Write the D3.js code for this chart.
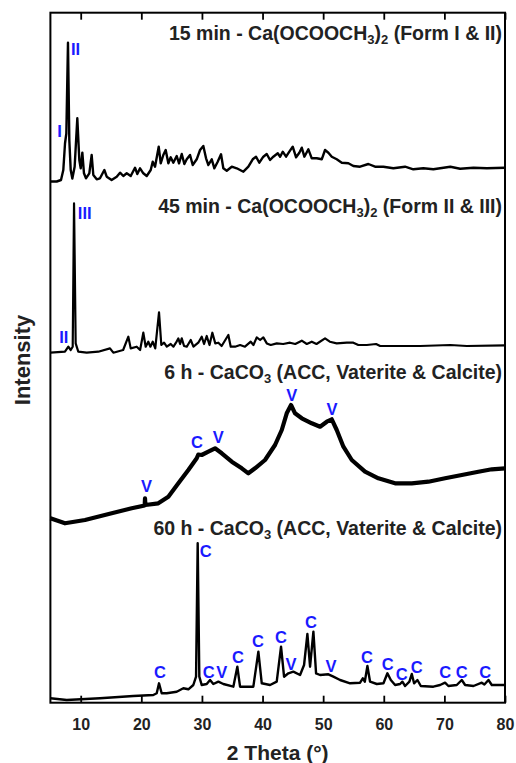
<!DOCTYPE html>
<html>
<head>
<meta charset="utf-8">
<script src="https://cdn.jsdelivr.net/npm/d3@7"></script>
<style>
  html, body { margin: 0; padding: 0; background: #fff; }
  svg { display: block; font-family: "Liberation Sans", Arial, sans-serif; }
</style>
</head>
<body>
<svg id="chart" width="516" height="763"></svg>
<script>
// ---------------- DATA ----------------
const xTicks = [10, 20, 30, 40, 50, 60, 70, 80];

// 15 min pattern: [2theta, intensity]
const scan15min = [
  [5.0,0],[6.04,0],[6.75,1.5],[7.13,11.5],[7.41,38],[7.63,48],[7.9,138.8],[8.12,41.5],[8.35,11.5],[8.62,3],
  [9.0,14.8],[9.44,63.2],[9.77,21.5],[10.0,13.2],[10.27,28.8],[10.54,8.2],[10.87,3.2],[11.42,8.2],[11.81,26.5],
  [12.08,6.5],[12.64,2.2],[13.18,3.2],[13.9,11.5],[14.29,4.8],[15.1,1.5],[15.94,4.8],[16.49,8.8],[17.03,5.5],
  [17.59,8.2],[18.25,5.5],[18.96,13.8],[19.34,7.5],[19.79,13.2],[20.33,8.2],[20.89,5.5],[21.55,11.5],[21.88,19.8],
  [22.26,14.8],[22.87,34.8],[23.2,18.2],[23.63,26.5],[24.02,31.5],[24.46,18.2],[24.85,24.2],[25.28,18.8],
  [25.84,25.5],[26.22,18.2],[26.67,27.5],[27.1,17.5],[27.49,22.2],[28.04,26.5],[28.48,16.5],[29.14,22.2],
  [29.69,31.5],[30.23,35.5],[30.68,23.2],[31.06,16.5],[31.62,22.2],[32.05,13.2],[32.6,19.8],[33.15,27.2],
  [33.53,13.2],[34.09,10.8],[34.92,14.8],[35.74,13.2],[36.84,9.8],[37.66,14.8],[38.38,22.2],[38.93,24.8],
  [39.47,18.8],[40.13,24.8],[40.69,27.5],[41.24,21.5],[41.78,24.8],[42.51,28.2],[42.9,24.8],[43.33,29.8],
  [43.88,24.8],[44.42,29.8],[44.98,34.8],[45.53,24.2],[46.07,28.8],[46.47,33.8],[46.9,24.8],[47.56,32.2],
  [48.12,23.2],[48.94,23.2],[49.77,22.2],[50.31,31.5],[50.86,28.8],[51.42,24.8],[52.24,22.2],[53.07,18.8],
  [54.16,18.2],[54.98,15.5],[56.09,14.8],[57.46,17.5],[58.56,14.8],[59.93,14.8],[61.58,13.2],[63.51,14.8],
  [64.88,12.2],[66.53,13.2],[68.18,12.2],[70.98,14.8],[72.6,12.8],[74.8,13.8],[77.0,13.2],[80.0,13.8]
];

// 45 min pattern
const scan45min = [
  [5.0,0],[7.4,1],[7.96,6],[8.35,2.7],[8.68,6],[8.9,149.3],[9.17,9.3],[9.6,1],[10.99,0],[12.9,1],[14.83,4.3],
  [15.38,0],[17.0,2.7],[17.86,16],[18.25,4.3],[19.24,6],[19.8,2.7],[20.33,20],[20.72,6],[21.15,11],[21.5,6],
  [21.88,11],[22.3,4.3],[22.92,40.3],[23.3,7.7],[23.75,10],[24.2,6],[24.85,8.7],[25.3,6],[25.72,10],[26.1,14.3],
  [26.4,8.7],[26.67,14.3],[27.05,6.7],[27.5,6],[28.15,12.7],[28.6,6],[29.4,10],[29.96,16],[30.35,8.7],
  [30.79,16.7],[31.25,7.7],[31.72,20],[32.2,9.3],[32.71,10],[33.25,6.7],[34.36,17.7],[34.75,6],[35.46,6],
  [36.3,7.7],[37.1,6],[38.05,11],[38.5,7.7],[39.04,15.3],[39.6,12.7],[40.13,15.3],[40.7,9.3],[41.35,7.7],
  [42.34,9.3],[43.4,8.7],[44.54,10],[45.4,8.7],[46.47,12],[47.3,8.7],[48.12,11],[48.9,8.7],[50.31,14.3],
  [51.1,11],[52.24,9.3],[53.9,10],[54.98,10],[55.8,7.7],[57.2,7.7],[58.73,8.7],[59.4,6.7],[62.69,6.7],
  [66.0,6.7],[70.98,7.7],[73.7,6.7],[80.0,7.3]
];

// 6 h pattern
const scan6h = [
  [5.0,6.7],[7.41,1.7],[10.71,5],[15.11,11.7],[18.41,16.7],[20.55,19.5],[20.61,26.7],[20.67,20],[22.8,21.7],
  [24.46,28.3],[26.11,41.7],[27.76,55],[29.14,66.7],[29.4,70.5],[29.96,70],[31.06,73.3],[32.16,76.7],
  [33.27,71.7],[34.92,63.3],[36.57,56.7],[37.66,51.7],[38.76,56.7],[40.41,65],[42.06,80],[43.17,95],
  [43.99,111.7],[44.7,120],[45.36,111.7],[46.47,106.7],[48.12,101.7],[49.49,98.3],[50.6,103.3],[51.42,105.7],
  [52.24,95],[53.34,78.3],[54.72,65],[56.91,53.3],[59.11,46.7],[61.86,41.7],[64.62,41.7],[67.36,43.3],
  [70.11,46.7],[72.87,50],[75.61,53.3],[77.82,55.7],[80.0,56.7]
];

// 60 h pattern
const scan60h = [
  [5.0,1.7],[7.69,0],[13.18,1.7],[18.68,4],[21.98,5],[22.54,6.7],[22.92,16.7],[23.36,6.7],[24.19,6.7],
  [25.84,8.3],[26.93,11.7],[27.76,10.7],[28.58,15],[29.03,23.3],[29.3,156.7],[29.57,23.3],[29.96,15],
  [30.79,16],[31.34,20],[31.88,16],[32.71,18.3],[33.53,16],[35.18,13.3],[35.84,33.3],[36.29,13.3],
  [38.48,13.3],[39.31,48.3],[39.87,16.7],[41.24,15],[42.34,18.3],[43.05,53.3],[43.55,23.3],[44.26,26.7],
  [45.08,28.3],[46.19,25],[46.85,35],[47.4,66],[47.84,33.3],[48.39,68.3],[48.83,26.7],[49.49,25],
  [50.86,25.7],[51.69,23.3],[52.79,20],[54.44,16.7],[56.09,17.3],[56.54,21.7],[56.87,18.3],[57.3,34],
  [57.74,18.3],[58.85,16],[59.95,16.7],[60.6,26.7],[61.16,20],[61.87,15],[62.69,16],[63.07,18.3],
  [63.52,14],[64.23,18.3],[64.62,26],[65.0,16.7],[65.55,20],[66.11,14],[68.18,13.3],[69.29,15],[70.11,17.3],
  [70.66,14],[72.04,15],[72.87,20],[73.42,15],[74.8,14],[76.17,17.3],[76.6,15.5],[77.27,20],[77.82,15],[80.0,15]
];

const scanOffsets = [521.2, 350, 177.7, 2.7];

// Pattern titles: [prefix, sub1, middle, sub2, suffix]
const titles = [
  ["15 min - Ca(OCOOCH", "3", ")", "2", " (Form I & II)"],
  ["45 min - Ca(OCOOCH", "3", ")", "2", " (Form II & III)"],
  ["6 h - CaCO", "3", " (ACC, Vaterite & Calcite)", "", ""],
  ["60 h - CaCO", "3", " (ACC, Vaterite & Calcite)", "", ""]
];
const titleLevels = [662.5, 489.5, 323.5, 167.5];

// Phase annotations: [label, 2theta, level]
const marks = [
  ["I", 6.5, 565.7], ["II", 9.14, 647.7],
  ["III", 10.66, 483.7], ["II", 7.21, 359.7],
  ["V", 20.86, 211.2], ["C", 29.19, 254.7], ["V", 32.71, 259.7], ["V", 44.82, 302.2], ["V", 51.47, 287.7],
  ["C", 30.64, 146], ["C", 23.09, 24.4], ["C", 31.12, 24.4], ["V", 33.27, 24.4], ["C", 35.96, 39.4],
  ["C", 39.26, 55.4], ["C", 43.05, 60], ["V", 44.7, 32.7], ["C", 48.0, 74.4], ["V", 51.3, 31],
  ["C", 57.24, 39.4], ["C", 60.63, 32.7], ["C", 62.97, 22.7], ["C", 65.45, 30], ["C", 70.12, 24.4],
  ["C", 72.87, 24.4], ["C", 76.72, 24.4]
];

// ---------------- DRAW ----------------
const svg = d3.select("#chart");
const L = 50.4, R = 505, T = 12.7, B = 702.7;

const x = d3.scaleLinear().domain([5, 80]).range([L, R]);
const y = d3.scaleLinear().domain([0, 690]).range([B, T]);

const scans = [scan15min, scan45min, scan6h, scan60h];
const widths = [2.4, 2.2, 4.2, 2.4];

scans.forEach((s, i) => {
  const line = d3.line()
    .x(d => x(d[0]))
    .y(d => y(d[1] + scanOffsets[i]))
    .curve(d3.curveLinear);
  svg.append("path")
    .datum(s)
    .attr("fill", "none")
    .attr("stroke", "#000")
    .attr("stroke-width", widths[i])
    .attr("stroke-linejoin", "round")
    .attr("d", line);
});

// axes (inner ticks)
const xAxisB = d3.axisBottom(x).tickValues(xTicks).tickSizeInner(-7).tickSizeOuter(0).tickPadding(16).tickFormat(d3.format("d"));
const gB = svg.append("g").attr("transform", `translate(0,${B})`).call(xAxisB);
gB.select(".domain").remove();
gB.selectAll(".tick line").attr("stroke", "#000").attr("stroke-width", 1.8);
gB.selectAll(".tick text").attr("font-size", 16).attr("font-weight", "bold")
  .attr("font-family", "Liberation Sans, Arial, sans-serif").attr("fill", "#222");

const xAxisT = d3.axisTop(x).tickValues(xTicks).tickSizeInner(-7).tickSizeOuter(0).tickFormat("");
const gT = svg.append("g").attr("transform", `translate(0,${T})`).call(xAxisT);
gT.select(".domain").remove();
gT.selectAll(".tick line").attr("stroke", "#000").attr("stroke-width", 1.8);

// frame
svg.append("rect").attr("x", L).attr("y", T).attr("width", R - L).attr("height", B - T)
  .attr("fill", "none").attr("stroke", "#000").attr("stroke-width", 2);

// titles
titles.forEach((t, i) => {
  const txt = svg.append("text")
    .attr("x", x(80) - 3).attr("y", y(titleLevels[i]))
    .attr("text-anchor", "end")
    .attr("font-size", 19.5).attr("font-weight", "bold").attr("fill", "#222");
  txt.append("tspan").text(t[0]);
  txt.append("tspan").attr("font-size", 13).attr("dy", 4).text(t[1]);
  txt.append("tspan").attr("dy", -4).text(t[2]);
  if (t[3]) {
    txt.append("tspan").attr("font-size", 13).attr("dy", 4).text(t[3]);
    txt.append("tspan").attr("dy", -4).text(t[4]);
  }
});

// annotations
svg.selectAll("text.mark").data(marks).join("text")
  .attr("class", "mark")
  .attr("x", d => x(d[1])).attr("y", d => y(d[2]))
  .attr("text-anchor", "middle")
  .attr("font-size", 16.5).attr("font-weight", "bold").attr("fill", "#1a1aff")
  .text(d => d[0]);

// axis titles
svg.append("text").attr("x", (L + R) / 2).attr("y", 760)
  .attr("text-anchor", "middle").attr("font-size", 21).attr("font-weight", "bold").attr("fill", "#222")
  .text("2 Theta (°)");
svg.append("text").attr("transform", `translate(30,360) rotate(-90)`)
  .attr("text-anchor", "middle").attr("font-size", 22).attr("font-weight", "bold").attr("fill", "#222")
  .text("Intensity");
</script>
</body>
</html>
